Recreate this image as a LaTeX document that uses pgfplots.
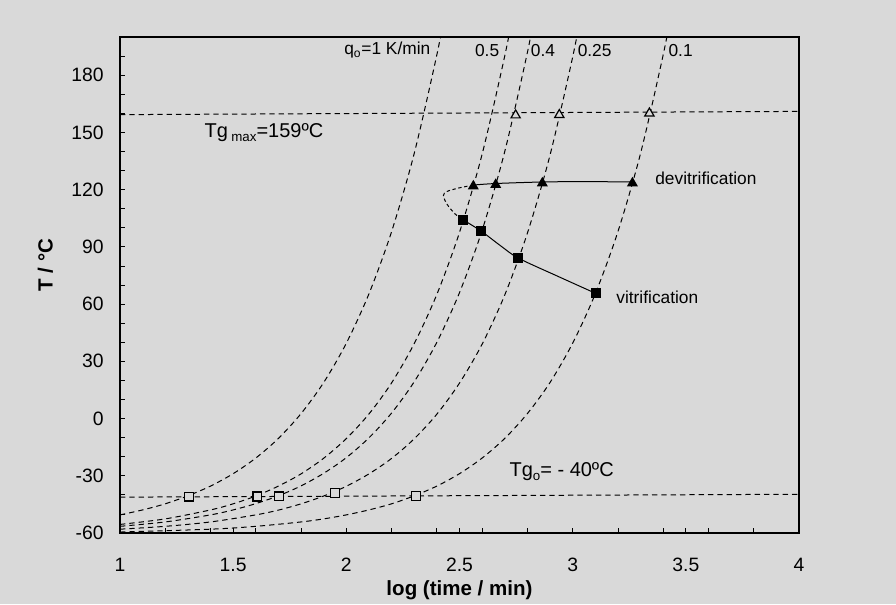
\documentclass[border=0pt]{standalone}
\usepackage{fontspec}
\setmainfont{Liberation Sans}
\usepackage{pgfplots}
\pgfplotsset{compat=1.18}
\definecolor{bgc}{RGB}{217,217,217}
\newcommand{\annA}{\fontsize{13}{15}\selectfont}
\newcommand{\annB}{\fontsize{15}{17}\selectfont}
\begin{document}
\begin{tikzpicture}
\fill[bgc] (-90pt,-53.25pt) rectangle (582pt,399.75pt);
\useasboundingbox (-90pt,-53.25pt) rectangle (582pt,399.75pt);
\begin{axis}[
  scale only axis, width=509.25pt, height=372pt,
  xmin=1, xmax=4, ymin=-60, ymax=200,
  xtick={1,1.5,2,2.5,3,3.5,4}, ytick={-60,-30,0,30,60,90,120,150,180},
  minor xtick={1.2,1.4,1.6,1.8,2.2,2.4,2.6,2.8,3.2,3.4,3.6,3.8},
  minor ytick={-50,-40,-20,-10,10,20,40,50,70,80,100,110,130,140,160,170,190},
  tick pos=left, tick align=inside,
  major tick length=4pt, minor tick length=3.5pt,
  axis line style={line width=1pt},
  tick style={black, line width=0.6pt},
  xticklabel style={yshift=-15pt},
  yticklabel style={xshift=-8.7pt},
  ticklabel style={font=\fontsize{14.5}{16}\selectfont},
  /pgf/number format/assume math mode=true,
  xlabel={log (time / min)},
  ylabel={T / °C},
  label style={font=\fontsize{15.4}{18}\selectfont\bfseries},
  xlabel style={at={(axis description cs:0.5,-0.116)}, anchor=center},
  ylabel style={at={(axis description cs:-0.11,0.54)}, anchor=center},
  every axis plot/.append style={line width=0.75pt},
]
% heating curves
\addplot[black, dash pattern=on 4pt off 3pt, smooth] coordinates {
(1.0,-50.5) (1.1,-47.9) (1.2,-44.7) (1.3,-40.5) (1.4,-35.4) (1.5,-28.9) (1.6,-20.7) (1.7,-10.4)
(1.8,2.6) (1.9,18.9) (2.0,39.5) (2.1,65.4) (2.2,98.0) (2.3,139.0) (2.4,190.7) (2.45,221.3)};
\addplot[black, dash pattern=on 4pt off 3pt, smooth] coordinates {
(1.0,-55.5) (1.2,-52.6) (1.4,-47.9) (1.5,-44.7) (1.6,-40.6) (1.7,-35.4) (1.8,-29.0) (1.9,-20.8)
(2.0,-10.5) (2.1,2.4) (2.2,18.7) (2.3,39.3) (2.4,65.1) (2.5,97.6) (2.6,138.6) (2.7,190.1) (2.75,220.7)};
\addplot[black, dash pattern=on 4pt off 3pt, smooth] coordinates {
(1.0,-56.5) (1.2,-54.2) (1.4,-50.5) (1.5,-47.9) (1.6,-44.6) (1.7,-40.5) (1.8,-35.3) (1.9,-28.7)
(2.0,-20.5) (2.1,-10.1) (2.2,2.9) (2.3,19.3) (2.4,40.0) (2.5,66.0) (2.6,98.7) (2.7,140.0) (2.8,191.9) (2.85,222.7)};
\addplot[black, dash pattern=on 4pt off 3pt, smooth] coordinates {
(1.0,-58.0) (1.2,-56.5) (1.4,-54.2) (1.6,-50.5) (1.7,-48.0) (1.8,-44.7) (1.9,-40.6) (2.0,-35.5)
(2.1,-29.0) (2.2,-20.9) (2.3,-10.6) (2.4,2.3) (2.5,18.6) (2.6,39.0) (2.7,64.8) (2.8,97.2) (2.9,138.1) (3.0,189.5) (3.05,220.0)};
\addplot[black, dash pattern=on 4pt off 3pt, smooth] coordinates {
(1.0,-59.5) (1.4,-58.0) (1.6,-56.5) (1.8,-54.2) (1.9,-52.6) (2.0,-50.5) (2.1,-47.9) (2.2,-44.7)
(2.3,-40.5) (2.4,-35.4) (2.5,-28.9) (2.6,-20.7) (2.7,-10.4) (2.8,2.6) (2.9,18.9) (3.0,39.5)
(3.1,65.4) (3.2,98.0) (3.3,139.0) (3.4,190.7) (3.45,221.3)};
% Tg lines
\addplot[black, dash pattern=on 4pt off 3pt] coordinates {(1,159.3) (4,161.0)};
\addplot[black, dash pattern=on 4pt off 3pt] coordinates {(1,-41.2) (4,-39.7)};
% devitrification line
\addplot[black, solid, smooth] coordinates {(2.561,122.4) (2.660,123.2) (2.866,124.0) (3.05,124.2) (3.264,124.0)};
\addplot[black, dash pattern=on 2.5pt off 2pt, smooth] coordinates {
(2.561,122.4) (2.495,120.8) (2.444,119.0) (2.429,116.9) (2.444,112.5) (2.480,107.3) (2.514,104.3)};
% vitrification line
\addplot[black, solid, smooth] coordinates {(2.514,104.3) (2.595,98.3) (2.679,90.8) (2.760,84.1) (2.93,74.8) (3.102,65.6)};
% markers
\addplot[only marks, mark=square*, mark size=3.4pt, black] coordinates {
(2.514,104.3) (2.595,98.3) (2.760,84.1) (3.102,65.6)};
\addplot[only marks, mark=triangle*, mark size=4pt, black] coordinates {
(2.561,121.8) (2.660,122.6) (2.866,123.4) (3.264,123.4)};
\addplot[only marks, mark=square*, mark size=3.3pt, draw=black, fill=bgc, mark options={line width=1pt}] coordinates {
(1.305,-41.0) (1.607,-40.9) (1.703,-40.8) (1.949,-39.0) (2.308,-40.5)};
\addplot[only marks, mark=triangle*, mark size=4pt, draw=black, fill=bgc, mark options={line width=0.9pt}] coordinates {
(2.748,159.0) (2.941,159.2) (3.339,160.0)};
% annotations
\node[anchor=west, inner sep=0pt, font=\annA] at (axis cs:1.99,193) {q\textsubscript{o}=1 K/min};
\node[inner sep=0pt, font=\annA] at (axis cs:2.622,193) {0.5};
\node[inner sep=0pt, font=\annA] at (axis cs:2.869,193) {0.4};
\node[inner sep=0pt, font=\annA] at (axis cs:3.097,193) {0.25};
\node[inner sep=0pt, font=\annA] at (axis cs:3.477,193) {0.1};
\node[anchor=west, inner sep=0pt, font=\annB] at (axis cs:1.373,150) {Tg\,\raisebox{-0.4ex}{\fontsize{10}{12}\selectfont max}=159ºC};
\node[anchor=west, inner sep=0pt, font=\annB] at (axis cs:2.72,-27.8) {Tg\raisebox{-0.4ex}{\fontsize{10}{12}\selectfont o}= - 40ºC};
\node[anchor=west, inner sep=0pt, font=\annA] at (axis cs:3.364,125.7) {devitrification};
\node[anchor=west, inner sep=0pt, font=\annA] at (axis cs:3.192,63.8) {vitrification};
\end{axis}
\end{tikzpicture}
\end{document}
